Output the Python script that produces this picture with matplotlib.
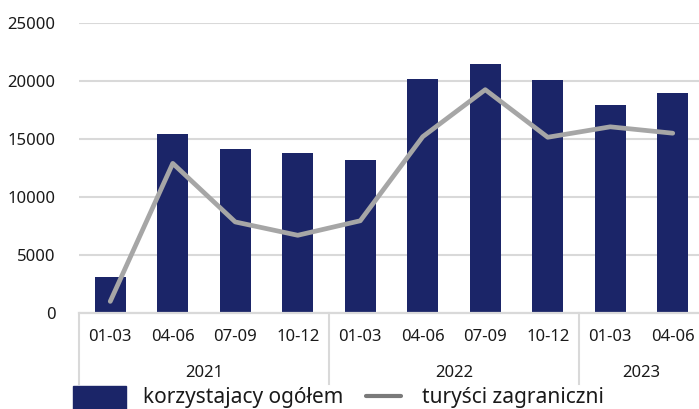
import matplotlib
matplotlib.use("Agg")
from matplotlib import pyplot as plt
from matplotlib.patches import Rectangle
from matplotlib.lines import Line2D
from matplotlib.transforms import blended_transform_factory
import numpy as np

# data
years = ["2021", "2022", "2023"]
year_sizes = [4, 4, 2]
quarters = ["01-03", "04-06", "07-09", "10-12",
            "01-03", "04-06", "07-09", "10-12",
            "01-03", "04-06"]
ogolem = [3100, 15400, 14100, 13800, 13200, 20200, 21500, 20100, 17900, 18950]
zagraniczni = [1000, 12900, 7850, 6700, 7950, 15200, 19250, 15150, 16050, 15500]
yticks = [0, 5000, 10000, 15000, 20000, 25000]

bar_color = "#1b2568"
line_color = "#a6a6a6"
grid_color = "#d9d9d9"
plt.rcParams['font.family'] = ['Noto Sans', 'DejaVu Sans']

W, H = 699, 409
fig = plt.figure(figsize=(W / 100, H / 100), dpi=100)
# axes in pixel geometry of the reference
left, right, bottom_px, top_px = 79, 704, 313, 23
ax = fig.add_axes([left / W, (H - bottom_px) / H, (right - left) / W, (bottom_px - top_px) / H])

x = np.arange(len(quarters))
ax.bar(x, ogolem, width=0.5, color=bar_color, zorder=2)
ax.plot(x, zagraniczni, color=line_color, lw=3.4, solid_capstyle='round',
        solid_joinstyle='round', zorder=3)

ax.set_xlim(-0.5, len(quarters) - 0.5)
ax.set_ylim(0, 25000)
ax.set_yticks(yticks)
ax.set_yticklabels([str(v) for v in yticks], fontsize=12, color="#1a1a1a")
ax.tick_params(axis='y', length=0, pad=17)
ax.set_xticks([])
ax.grid(axis='y', color=grid_color, lw=1.5, zorder=0)
for s in ["top", "right", "left"]:
    ax.spines[s].set_visible(False)
ax.spines["bottom"].set_color(grid_color)
ax.spines["bottom"].set_linewidth(1.6)

# multi-level category axis
tr = blended_transform_factory(ax.transData, ax.transAxes)
px = 1 / (bottom_px - top_px)  # one pixel in axes fraction
for i, q in enumerate(quarters):
    ax.text(i, -24 * px, q, transform=tr, ha='center', va='center',
            fontsize=12, color="#1a1a1a")
start = 0
bounds = [-0.5]
for yr, n in zip(years, year_sizes):
    ax.text(start + (n - 1) / 2, -60 * px, yr, transform=tr, ha='center',
            va='center', fontsize=12, color="#1a1a1a")
    start += n
    bounds.append(start - 0.5)
for b in bounds[:-1]:
    ax.add_line(Line2D([b, b], [0, -71 * px], transform=tr, color=grid_color,
                       lw=1.5, clip_on=False))

# legend at the bottom edge
fig.add_artist(Rectangle((73 / W, (H - 412) / H), 53 / W, 26 / H,
                         transform=fig.transFigure, color=bar_color))
fig.text(143 / W, (H - 403) / H, "korzystajacy ogółem", fontsize=15,
         va='baseline', color="#1a1a1a")
fig.add_artist(Line2D([366 / W, 401 / W], [(H - 396) / H] * 2,
                      transform=fig.transFigure, color="#7a7a7a", lw=3,
                      solid_capstyle='round'))
fig.text(422 / W, (H - 403) / H, "turyści zagraniczni", fontsize=15,
         va='baseline', color="#1a1a1a")

fig.savefig("out.png", dpi=100)
